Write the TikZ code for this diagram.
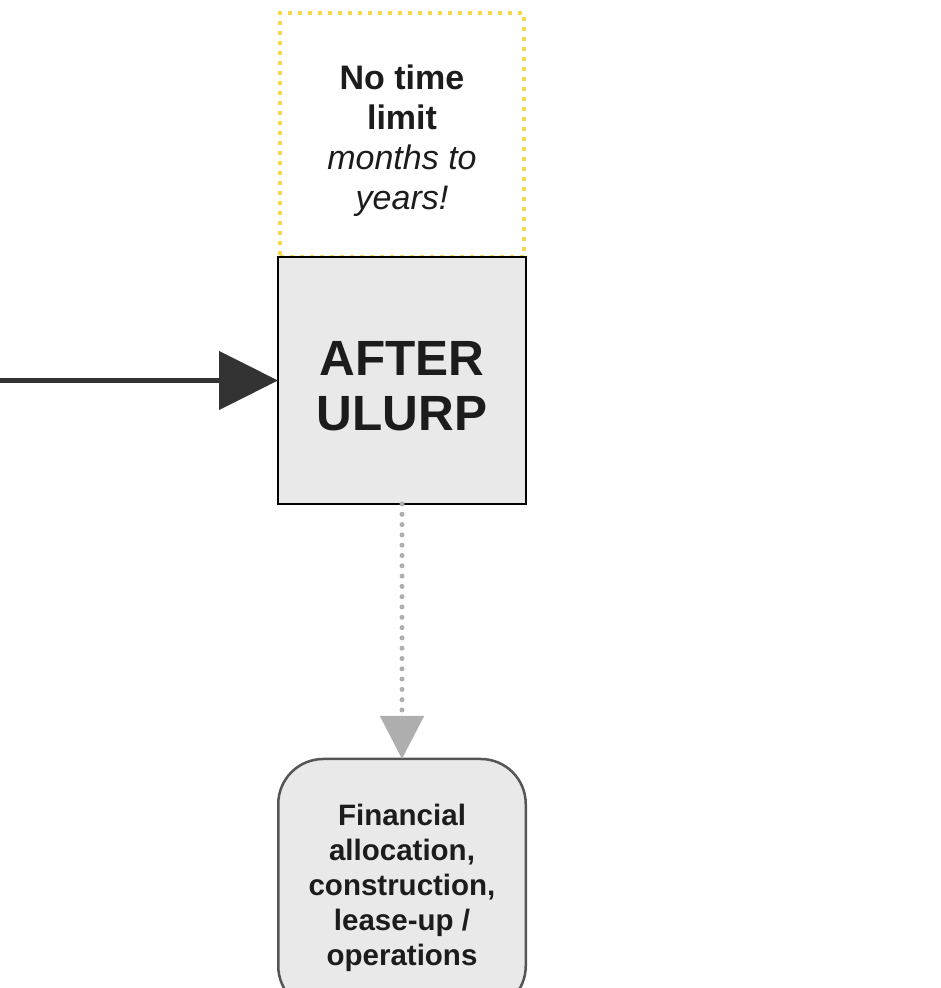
\documentclass[tikz,border=0pt]{standalone}
\usepackage{fontspec}
\setmainfont{Liberation Sans}
\usetikzlibrary{arrows.meta, positioning}

\definecolor{boxgray}{HTML}{E8E9E8}
\definecolor{inkdark}{HTML}{1C1C1C}
\definecolor{arrowdark}{HTML}{333333}
\definecolor{dotgray}{HTML}{AEAEAE}
\definecolor{timeyellow}{HTML}{F6D84E}
\definecolor{edgegray}{HTML}{555555}

\begin{document}
\begin{tikzpicture}[x=1pt, y=1pt, node distance=255pt]
        \tikzstyle{phase} = [rectangle, outer sep=0pt, minimum width=248pt, minimum height=247pt, text centered, align=center, draw=black, line width=2pt, fill=boxgray, text=inkdark, font=\bfseries\fontsize{49.5}{55}\selectfont]
        \tikzstyle{timebox} = [rectangle, outer sep=0pt, minimum width=244pt, minimum height=244pt, text centered, align=center, draw=timeyellow, line width=4pt, dash pattern=on 4pt off 6pt, text=inkdark, font=\fontsize{34}{40}\selectfont]
        \tikzstyle{stepbox} = [rectangle, rounded corners=45pt, outer sep=0pt, minimum width=247.5pt, minimum height=252pt, text centered, align=center, draw=edgegray, line width=2.5pt, fill=boxgray, text=inkdark, font=\bfseries\fontsize{29.5}{35}\selectfont]
        \tikzstyle{arrow} = [line width=4.5pt, draw=arrowdark, -{Triangle[length=59pt, width=58pt]}]
        \tikzstyle{dotarrow} = [line width=5pt, draw=dotgray, line cap=round, dash pattern=on 0pt off 10.3pt, -{Triangle[length=43pt, width=43pt, fill=dotgray]}]

        \useasboundingbox (0,0) rectangle (940,988);
        \clip (0,0) rectangle (940,988);

        \node (limit) [timebox] at (402,853) {\rule{0pt}{37pt}\textbf{No time}\\\textbf{limit}\\\textit{months to}\\\textit{years!}};
        \node (ulurp) [phase, below=0pt of limit] {\rule{0pt}{46pt}AFTER\\ULURP};
        \node (ops) [stepbox, below=of ulurp] {\rule{0pt}{27pt}Financial\\allocation,\\construction,\\lease-up /\\operations};
        \coordinate (entry) at (0,607.5);

        \draw [arrow] (entry) -- (ulurp.west);
        \draw [dotarrow] (ulurp.south) -- (ops.north);
    \end{tikzpicture}
\end{document}
